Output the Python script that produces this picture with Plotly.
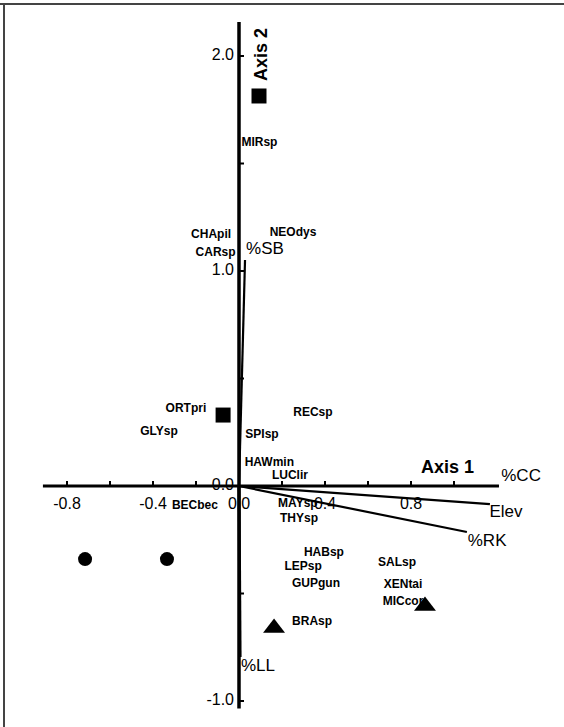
import plotly.graph_objects as go

# ---------------- data ----------------
species = ["MIRsp", "CHApil", "CARsp", "NEOdys", "ORTpri", "GLYsp", "RECsp", "SPIsp",
           "HAWmin", "LUClir", "BECbec", "MAYsp", "THYsp", "HABsp", "LEPsp", "GUPgun",
           "BRAsp", "SALsp", "XENtai", "MICcor"]
species_x = [0.095, -0.130, -0.109, 0.251, -0.247, -0.372, 0.344, 0.107,
             0.141, 0.237, -0.205, 0.274, 0.279, 0.395, 0.298, 0.358,
             0.340, 0.735, 0.763, 0.763]
species_y = [1.595, 1.167, 1.084, 1.177, 0.358, 0.251, 0.340, 0.237,
             0.107, 0.047, -0.093, -0.084, -0.153, -0.312, -0.377, -0.456,
             -0.633, -0.358, -0.460, -0.540]

square_x = [0.093, -0.074]
square_y = [1.814, 0.330]
circle_x = [-0.716, -0.335]
circle_y = [-0.340, -0.340]
triangle_x = [0.163, 0.865]
triangle_y = [-0.660, -0.558]

env_names = ["%CC", "Elev", "%RK", "%SB", "%LL"]
env_x = [1.209, 1.167, 1.060, 0.028, 0.005]
env_y = [0.000, -0.084, -0.214, 1.051, -0.795]
env_label_x = [1.312, 1.242, 1.154, 0.121, 0.088]
env_label_y = [0.042, -0.126, -0.260, 1.098, -0.842]

x_minor_ticks = [-0.8, -0.6, -0.4, -0.2, 0.2, 0.4, 0.6, 0.8, 1.0]
x_tick_labels = ["-0.8", "-0.4", "0.0", "0.4", "0.8"]
x_tick_vals = [-0.8, -0.4, 0.0, 0.4, 0.8]
y_minor_ticks = [-1.0, -0.5, 0.5, 1.0, 1.5, 2.0]
y_tick_labels = ["-1.0", "0.0", "1.0", "2.0"]
y_tick_vals = [-1.0, 0.0, 1.0, 2.0]

x_axis_extent = [-0.912, 1.209]
y_axis_extent = [-1.035, 2.158]

# ---------------- figure ----------------
W, H = 564, 727
PX = 215.0  # pixels per data unit
x0_px, y0_px = 239, 486
xr = [-x0_px / PX, (W - x0_px) / PX]
yr = [-(H - y0_px) / PX, y0_px / PX]
tl = 5 / PX

FONT = "Liberation Sans, Arial, sans-serif"
fig = go.Figure()

# axes
fig.add_trace(go.Scatter(x=x_axis_extent, y=[0, 0], mode="lines",
                         line=dict(color="black", width=3), hoverinfo="skip"))
fig.add_trace(go.Scatter(x=[0, 0], y=y_axis_extent, mode="lines",
                         line=dict(color="black", width=3.5), hoverinfo="skip"))
# ticks
tx, ty = [], []
for v in x_minor_ticks:
    tx += [v, v, None]
    ty += [0, tl, None]
for v in y_minor_ticks:
    tx += [0, tl, None]
    ty += [v, v, None]
fig.add_trace(go.Scatter(x=tx, y=ty, mode="lines",
                         line=dict(color="black", width=2), hoverinfo="skip"))

# environmental vectors
for ex, ey, nm in zip(env_x, env_y, env_names):
    w = 3 if nm == "%LL" else 2.2
    fig.add_trace(go.Scatter(x=[0, ex], y=[0, ey], mode="lines",
                             line=dict(color="black", width=w), hoverinfo="skip"))

# tick labels
fig.add_trace(go.Scatter(x=x_tick_vals, y=[-19 / PX] * len(x_tick_vals),
                         text=x_tick_labels, mode="text",
                         textfont=dict(family=FONT, size=16, color="black"),
                         textposition="middle center", hoverinfo="skip"))
fig.add_trace(go.Scatter(x=[-5 / PX] * len(y_tick_vals), y=y_tick_vals,
                         text=y_tick_labels, mode="text",
                         textfont=dict(family=FONT, size=16, color="black"),
                         textposition="middle left", hoverinfo="skip"))

# site markers
fig.add_trace(go.Scatter(x=square_x, y=square_y, mode="markers",
                         marker=dict(symbol="square", size=15, color="black"), hoverinfo="skip"))
fig.add_trace(go.Scatter(x=circle_x, y=circle_y, mode="markers",
                         marker=dict(symbol="circle", size=14, color="black"), hoverinfo="skip"))
fig.add_trace(go.Scatter(x=triangle_x, y=triangle_y, mode="markers",
                         marker=dict(symbol="triangle-up", size=19, color="black"), hoverinfo="skip"))

# species labels
fig.add_trace(go.Scatter(x=species_x, y=species_y, text=species, mode="text",
                         textfont=dict(family=FONT, size=12, color="black", weight="bold"),
                         textposition="middle center", hoverinfo="skip"))

# env labels
fig.add_trace(go.Scatter(x=env_label_x, y=env_label_y, text=env_names, mode="text",
                         textfont=dict(family=FONT, size=17, color="black"),
                         textposition="middle center", hoverinfo="skip"))

# axis titles
fig.add_annotation(x=(447 - x0_px) / PX, y=(y0_px - 467) / PX, text="<b>Axis 1</b>",
                   showarrow=False, font=dict(family=FONT, size=18, color="black"),
                   xanchor="center", yanchor="middle")
fig.add_annotation(x=(261 - x0_px) / PX, y=(y0_px - 55) / PX, text="<b>Axis 2</b>",
                   showarrow=False, textangle=-90,
                   font=dict(family=FONT, size=18, color="black"),
                   xanchor="center", yanchor="middle")

# frame (top and left)
fig.add_shape(type="line", xref="paper", yref="paper", x0=0, x1=1,
              y0=1 - 4 / H, y1=1 - 4 / H, line=dict(color="#444444", width=2))
fig.add_shape(type="line", xref="paper", yref="paper", x0=4 / W, x1=4 / W,
              y0=0, y1=1 - 4 / H, line=dict(color="#444444", width=2))

fig.update_layout(
    width=W, height=H, margin=dict(l=0, r=0, t=0, b=0),
    paper_bgcolor="white", plot_bgcolor="white", showlegend=False,
    xaxis=dict(range=xr, visible=False, fixedrange=True),
    yaxis=dict(range=yr, visible=False, fixedrange=True),
)

fig.write_html("out.html", config={"displayModeBar": False},
               post_script="document.body.style.margin='0';document.body.style.overflow='hidden';")
